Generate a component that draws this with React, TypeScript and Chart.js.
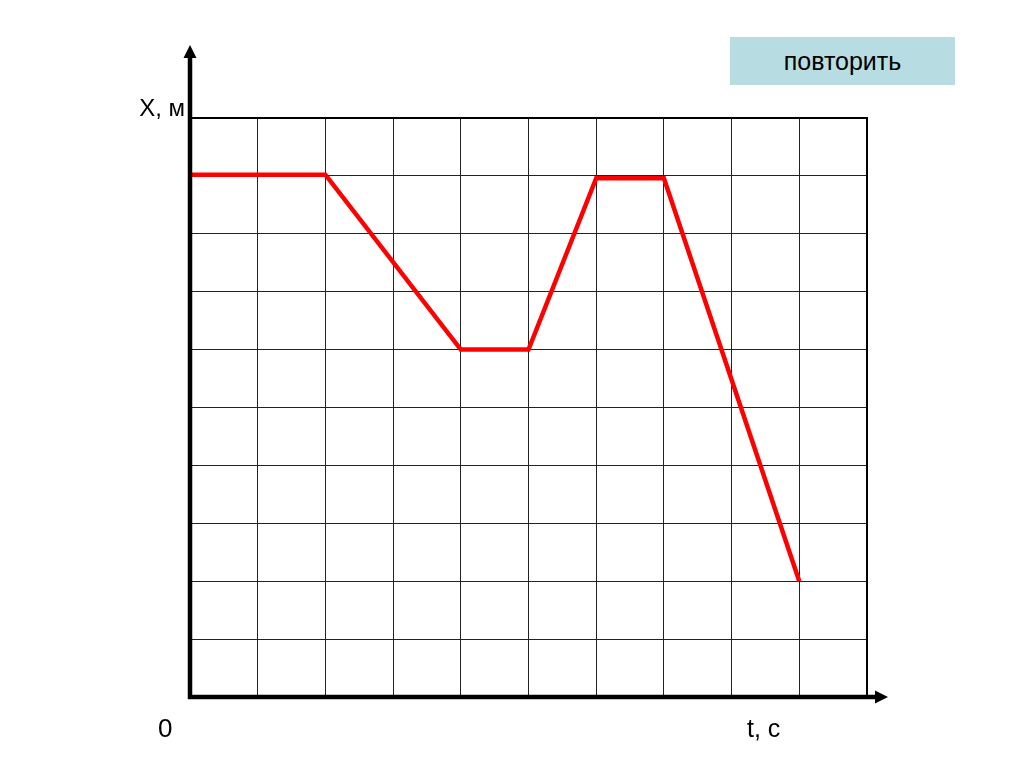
import React, { useEffect, useRef } from "react";
import { Chart, registerables } from "chart.js";

Chart.register(...registerables);

const timeValues = [0, 2, 4, 5, 6, 7, 9];
const positionValues = [9.02, 9.02, 6, 6, 8.96, 8.96, 2];
const axisMin = 0;
const axisMax = 10;
const yLabel = "X, м";
const xLabel = "t, с";
const originLabel = "0";
const buttonLabel = "повторить";

const axesPlugin = {
  id: "arrowAxes",
  afterDraw(chart: any) {
    const { ctx, chartArea } = chart;
    const { left, right, top, bottom } = chartArea;
    ctx.save();
    ctx.strokeStyle = "#000";
    ctx.lineWidth = 2;
    ctx.beginPath();
    ctx.moveTo(left, top);
    ctx.lineTo(right, top);
    ctx.lineTo(right, bottom);
    ctx.stroke();
    ctx.lineWidth = 4.5;
    ctx.beginPath();
    ctx.moveTo(left, bottom + 2);
    ctx.lineTo(left, 56);
    ctx.stroke();
    ctx.beginPath();
    ctx.moveTo(left - 2, bottom);
    ctx.lineTo(876, bottom);
    ctx.stroke();
    ctx.fillStyle = "#000";
    ctx.beginPath();
    ctx.moveTo(left, 45);
    ctx.lineTo(left - 6.5, 58);
    ctx.lineTo(left + 6.5, 58);
    ctx.closePath();
    ctx.fill();
    ctx.beginPath();
    ctx.moveTo(888, bottom);
    ctx.lineTo(875, bottom - 6.5);
    ctx.lineTo(875, bottom + 6.5);
    ctx.closePath();
    ctx.fill();
    ctx.restore();
  },
};

export default function App() {
  const canvasRef = useRef<HTMLCanvasElement>(null);

  useEffect(() => {
    if (!canvasRef.current) return;
    const chart = new Chart(canvasRef.current, {
      type: "line",
      data: {
        datasets: [
          {
            data: timeValues.map((t, i) => ({ x: t, y: positionValues[i] })),
            borderColor: "#ff0000",
            borderWidth: 4.5,
            pointRadius: 0,
            fill: false,
            tension: 0,
          },
        ],
      },
      options: {
        responsive: false,
        animation: false,
        events: [],
        layout: { padding: { left: 190, right: 157, top: 118, bottom: 71 } },
        plugins: { legend: { display: false }, tooltip: { enabled: false } },
        scales: {
          x: {
            type: "linear",
            min: axisMin,
            max: axisMax,
            ticks: { display: false, stepSize: 1 },
            grid: { color: "#222", lineWidth: 1, drawTicks: false },
            border: { display: false },
          },
          y: {
            type: "linear",
            min: axisMin,
            max: axisMax,
            ticks: { display: false, stepSize: 1 },
            grid: { color: "#222", lineWidth: 1, drawTicks: false },
            border: { display: false },
          },
        },
      },
      plugins: [axesPlugin],
    });
    return () => chart.destroy();
  }, []);

  const font = "'Liberation Sans', Arial, sans-serif";
  return (
    <div style={{ position: "fixed", left: 0, top: 0, width: 1024, height: 768, background: "#fff", fontFamily: font }}>
      <canvas ref={canvasRef} width={1024} height={768} style={{ position: "absolute", left: 0, top: 0 }} />
      <div style={{ position: "absolute", left: 730, top: 37, width: 225, height: 48, background: "#b7dde3", display: "flex", alignItems: "center", justifyContent: "center", fontSize: 25, color: "#000" }}>
        {buttonLabel}
      </div>
      <div style={{ position: "absolute", right: 1024 - 185, top: 95, fontSize: 24, lineHeight: "26px", whiteSpace: "nowrap" }}>{yLabel}</div>
      <div style={{ position: "absolute", left: 158, top: 714, fontSize: 26, lineHeight: "28px" }}>{originLabel}</div>
      <div style={{ position: "absolute", left: 747, top: 714, fontSize: 25, lineHeight: "28px", whiteSpace: "nowrap" }}>{xLabel}</div>
    </div>
  );
}
